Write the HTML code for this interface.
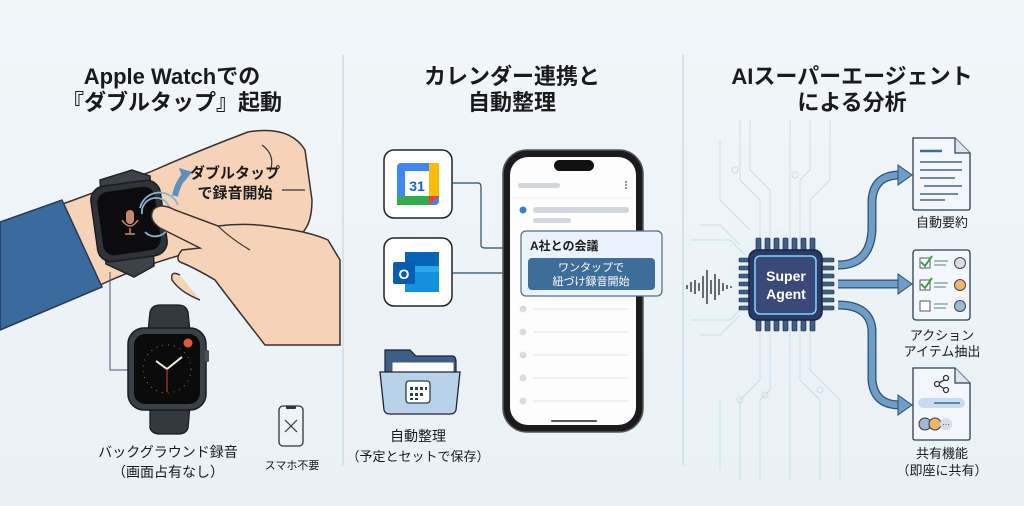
<!DOCTYPE html>
<html><head><meta charset="utf-8"><style>
html,body{margin:0;padding:0;background:#eef4f8;}
svg{display:block}
text{font-family:"Liberation Sans","Noto Sans CJK JP",sans-serif;}
</style></head><body>
<svg width="1024" height="506" viewBox="0 0 1024 506" xmlns="http://www.w3.org/2000/svg">
<defs>
<radialGradient id="glow" cx="50%" cy="50%" r="50%">
<stop offset="0%" stop-color="#7fd6ff" stop-opacity="0.9"/>
<stop offset="60%" stop-color="#9fdcff" stop-opacity="0.35"/>
<stop offset="100%" stop-color="#eef4f8" stop-opacity="0"/>
</radialGradient>
<linearGradient id="bg" x1="0" y1="0" x2="0" y2="1"><stop offset="0" stop-color="#f1f6f9"/><stop offset="1" stop-color="#e9f1f6"/></linearGradient>
</defs>
<rect width="1024" height="506" fill="url(#bg)"/>
<line x1="343" y1="55" x2="343" y2="465" stroke="#cfdbe5" stroke-width="1.5"/>
<line x1="683" y1="55" x2="683" y2="465" stroke="#cfdbe5" stroke-width="1.5"/>

<!-- titles -->
<g font-weight="bold" font-size="22" fill="#1a1a1a" text-anchor="middle">
<text x="172" y="84">Apple Watchでの</text>
<text x="172" y="110">『ダブルタップ』起動</text>
<text x="512" y="84">カレンダー連携と</text>
<text x="512" y="110">自動整理</text>
<text x="852" y="84">AIスーパーエージェント</text>
<text x="852" y="110">による分析</text>
</g>

<!-- LEFT: arm -->
<path d="M60,205 L150,172 Q200,150 248,132 Q290,125 305,150 L312,200 Q312,228 298,236 L200,250 Q150,262 100,285 Z" fill="#f5d3b8" stroke="#3a3030" stroke-width="1.5"/>
<path d="M0,222 L62,200 L102,287 L0,330 Z" fill="#3a6a9e" stroke="#2a3a50" stroke-width="1.5"/>
<path d="M262,145 Q276,155 270,172" fill="none" stroke="#3a3030" stroke-width="1.2"/>
<path d="M282,190 L305,190" fill="none" stroke="#3a3030" stroke-width="1.2"/>
<!-- watch on wrist -->
<path d="M100,180 L132,170 L150,176 L154,266 L134,277 L106,264 Z" fill="#3d4249" stroke="#222" stroke-width="1.5"/>
<rect x="94" y="183" width="70" height="76" rx="14" fill="#2f3338" stroke="#1b1b1b" stroke-width="1.5" transform="rotate(-8 129 221)"/>
<rect x="100" y="189" width="58" height="64" rx="11" fill="#0c0c0e" transform="rotate(-8 129 221)"/>
<rect x="126" y="210" width="8" height="14" rx="4" fill="#c7876a"/>
<path d="M122,220 Q130,232 138,220 M130,228 L130,234 M125,234 L135,234" stroke="#c7876a" stroke-width="1.5" fill="none"/>
<g fill="none" stroke="#8fb2d0" stroke-width="1.8">
<path d="M142,214 A14,14 0 0 1 170,210"/><path d="M140,208 A20,20 0 0 1 178,205"/><path d="M145,232 A14,14 0 0 0 168,228"/>
</g>
<path d="M175,196 Q178,182 186,174" fill="none" stroke="#5d8fbf" stroke-width="6"/>
<path d="M179,168 L192,172 L184,182 Z" fill="#5d8fbf"/>
<!-- pointing hand -->
<path d="M153,210 Q160,202 175,210 L218,226 Q250,222 280,228 Q310,232 328,240 L340,260 L340,345 L265,345 Q230,300 215,280 Q195,268 180,262 Q175,258 182,250 L200,248 L160,228 Q148,220 153,210 Z" fill="#f5d3b8" stroke="#3a3030" stroke-width="1.5"/>
<path d="M180,275 Q170,270 172,280 Q180,292 200,300" fill="#f5d3b8" stroke="#3a3030" stroke-width="1.5"/>
<path d="M218,226 Q230,238 250,250" fill="none" stroke="#3a3030" stroke-width="1.2"/>
<!-- connector -->
<path d="M110,272 L110,370 L128,370" fill="none" stroke="#556" stroke-width="1"/>
<!-- bottom watch -->
<path d="M150,312 Q152,305 160,305 L178,305 Q186,305 188,312 L190,332 L148,332 Z" fill="#343940" stroke="#1c1c1c" stroke-width="1.3"/>
<path d="M150,405 L190,405 L188,428 Q186,434 178,434 L160,434 Q152,434 150,428 Z" fill="#343940" stroke="#1c1c1c" stroke-width="1.3"/>
<rect x="128" y="328" width="78" height="82" rx="16" fill="#3b4046" stroke="#1b1b1b" stroke-width="1.5"/>
<rect x="134" y="334" width="66" height="70" rx="11" fill="#0b0b0c"/>
<rect x="205" y="350" width="4" height="12" rx="1.5" fill="#4a5058"/>
<circle cx="188" cy="343" r="4.5" fill="#e05a3a"/>
<circle cx="167" cy="369" r="24" fill="none" stroke="#777" stroke-width="1" stroke-dasharray="1 5"/>
<path d="M167,369 L156,361 M167,369 L182,357" stroke="#f4efe8" stroke-width="2"/>
<path d="M167,369 L167,392" stroke="#d04030" stroke-width="1"/>
<!-- phone small -->
<rect x="279" y="406" width="24" height="40" rx="4" fill="#eef3f7" stroke="#333" stroke-width="1.3"/>
<rect x="286" y="406" width="10" height="3" rx="1" fill="#333"/>
<path d="M285,420 L297,432 M297,420 L285,432" stroke="#333" stroke-width="1.2"/>
<g font-size="14" fill="#1a1a1a" text-anchor="middle" font-weight="bold">
<text x="235" y="178" font-size="15">ダブルタップ</text>
<text x="235" y="198" font-size="15">で録音開始</text>
<text x="168" y="457" font-weight="normal">バックグラウンド録音</text>
<text x="168" y="477" font-weight="normal">（画面占有なし）</text>
<text x="292" y="469" font-size="11" font-weight="normal">スマホ不要</text>
</g>

<!-- MIDDLE -->
<rect x="384" y="150" width="68" height="68" rx="10" fill="#fff" stroke="#222" stroke-width="1.5"/>
<rect x="397" y="163" width="42" height="42" rx="4" fill="#4285f4"/>
<rect x="397" y="196" width="32" height="9" fill="#34a853"/>
<rect x="429" y="163" width="10" height="33" fill="#fbbc04"/>
<path d="M429,196 L439,196 L429,205 Z" fill="#ea4335"/>
<rect x="405" y="171" width="24" height="25" fill="#fff"/>
<text x="417" y="191" font-size="14" fill="#1a5fc5" text-anchor="middle" font-weight="bold">31</text>
<rect x="384" y="238" width="68" height="68" rx="10" fill="#fff" stroke="#222" stroke-width="1.5"/>
<rect x="405" y="252" width="34" height="40" rx="2" fill="#28a8ea"/>
<rect x="405" y="252" width="34" height="14" fill="#0364b8"/>
<path d="M405,272 L439,272 L439,292 L405,292 Z" fill="#1490df"/>
<rect x="393" y="262" width="22" height="22" rx="2" fill="#0a5cb0"/>
<text x="404" y="279" font-size="14" fill="#fff" text-anchor="middle" font-weight="bold">O</text>
<path d="M452,183 L478,183 Q481,183 481,187 L481,245 Q481,248 485,248 L520,248 M452,273 L520,273" fill="none" stroke="#2c4a66" stroke-width="1.2"/>
<!-- folder -->
<path d="M385,350 L410,350 L416,356 L452,356 Q456,356 456,362 L456,372 L385,372 Z" fill="#3b5f86" stroke="#223" stroke-width="1.2"/>
<rect x="392" y="362" width="62" height="14" fill="#fff" stroke="#556"/>
<path d="M380,372 L460,372 L456,410 Q455,414 450,414 L390,414 Q385,414 384,410 Z" fill="#b9d2ea" stroke="#223" stroke-width="1.3"/>
<rect x="406" y="381" width="24" height="22" rx="3" fill="#fff" stroke="#2b3f55" stroke-width="1.3"/>
<g fill="#2b3f55"><rect x="410" y="387" width="3" height="3"/><rect x="415" y="387" width="3" height="3"/><rect x="420" y="387" width="3" height="3"/><rect x="425" y="387" width="2" height="3"/><rect x="410" y="393" width="3" height="3"/><rect x="415" y="393" width="3" height="3"/><rect x="420" y="393" width="3" height="3"/><rect x="410" y="398" width="3" height="2"/><rect x="415" y="398" width="3" height="2"/></g>
<g font-size="14" fill="#1a1a1a" text-anchor="middle">
<text x="418" y="441">自動整理</text>
<text x="418" y="461" font-size="13">（予定とセットで保存）</text>
</g>
<!-- phone -->
<rect x="503" y="150" width="140" height="282" rx="24" fill="#1b1b1d" stroke="#555" stroke-width="1.5"/>
<rect x="510" y="157" width="126" height="268" rx="18" fill="#fdfdfd"/>
<rect x="554" y="160" width="40" height="11" rx="5.5" fill="#111"/>
<rect x="518" y="183" width="42" height="5" rx="2.5" fill="#d1d6dc"/>
<circle cx="626" cy="185" r="1" fill="#777"/><circle cx="626" cy="182" r="1" fill="#777"/><circle cx="626" cy="188" r="1" fill="#777"/>
<line x1="512" y1="198" x2="634" y2="198" stroke="#eee"/>
<circle cx="523" cy="210" r="3.5" fill="#3a7bd5"/>
<rect x="533" y="207" width="96" height="6" rx="3" fill="#d1d6dc"/>
<rect x="533" y="218" width="38" height="5" rx="2.5" fill="#d1d6dc"/>
<g fill="#d9dde2"><circle cx="523" cy="309" r="3.5"/><circle cx="523" cy="332" r="3.5"/><circle cx="523" cy="355" r="3.5"/><circle cx="523" cy="378" r="3.5"/><circle cx="523" cy="401" r="3.5"/></g>
<g stroke="#dde1e6"><line x1="533" y1="309" x2="628" y2="309"/><line x1="533" y1="332" x2="628" y2="332"/><line x1="533" y1="355" x2="628" y2="355"/><line x1="533" y1="378" x2="628" y2="378"/><line x1="533" y1="401" x2="628" y2="401"/></g>
<rect x="551" y="420" width="46" height="2" rx="1" fill="#555"/>
<rect x="521" y="231" width="141" height="65" rx="5" fill="#eaf3fb" stroke="#556a80" stroke-width="1.2"/>
<text x="530" y="250" font-size="12" fill="#1a1a1a" font-weight="bold">A社との会議</text>
<rect x="528" y="258" width="127" height="32" rx="4" fill="#3f6d9a"/>
<g font-size="11" fill="#fff" text-anchor="middle"><text x="591" y="271">ワンタップで</text><text x="591" y="285">紐づけ録音開始</text></g>

<!-- RIGHT: circuit -->
<g fill="none" stroke="#cfdbe4" stroke-width="1">
<path d="M740,120 L740,180 L760,200 L760,245 M750,120 L750,170 L770,190 L770,245 M790,120 L790,245 M810,120 L810,170 L800,180 L800,245 M830,120 L830,180 L810,200 L810,245 M720,140 L720,200 L750,230"/>
<path d="M760,325 L760,380 L740,400 L740,480 M770,325 L770,390 L760,400 L760,480 M790,325 L790,480 M800,325 L800,380 L820,400 L820,480 M810,325 L810,370 L840,400 L840,480 M720,400 L720,470"/>
<path d="M690,240 L730,240 L745,255 M690,320 L730,320 L745,305 M700,225 L720,225 L740,245 M700,335 L720,335 L740,315"/>
</g>
<g fill="none" stroke="#cfdbe4"><circle cx="735" cy="170" r="3"/><circle cx="795" cy="175" r="3"/><circle cx="765" cy="395" r="3"/><circle cx="820" cy="390" r="3"/><circle cx="740" cy="400" r="3"/></g>
<!-- waveform -->
<g stroke="#222" stroke-width="1.3">
<line x1="687" y1="285" x2="687" y2="289"/><line x1="691" y1="282" x2="691" y2="292"/><line x1="695" y1="280" x2="695" y2="294"/><line x1="699" y1="283" x2="699" y2="291"/><line x1="703" y1="276" x2="703" y2="298"/><line x1="707" y1="270" x2="707" y2="304"/><line x1="711" y1="280" x2="711" y2="294"/><line x1="715" y1="274" x2="715" y2="300"/><line x1="719" y1="279" x2="719" y2="295"/><line x1="723" y1="283" x2="723" y2="291"/><line x1="727" y1="285" x2="727" y2="289"/><line x1="731" y1="286" x2="731" y2="288"/>
</g>
<!-- chip -->
<circle cx="786" cy="284" r="60" fill="url(#glow)"/>
<g fill="#3f5f86" stroke="#223" stroke-width="0.6">
<rect x="756" y="238" width="5" height="13" rx="1"/><rect x="765" y="238" width="5" height="13" rx="1"/><rect x="774" y="238" width="5" height="13" rx="1"/><rect x="783" y="238" width="5" height="13" rx="1"/><rect x="792" y="238" width="5" height="13" rx="1"/><rect x="801" y="238" width="5" height="13" rx="1"/><rect x="810" y="238" width="5" height="13" rx="1"/>
<rect x="756" y="318" width="5" height="13" rx="1"/><rect x="765" y="318" width="5" height="13" rx="1"/><rect x="774" y="318" width="5" height="13" rx="1"/><rect x="783" y="318" width="5" height="13" rx="1"/><rect x="792" y="318" width="5" height="13" rx="1"/><rect x="801" y="318" width="5" height="13" rx="1"/><rect x="810" y="318" width="5" height="13" rx="1"/>
<rect x="739" y="258" width="14" height="4" rx="1"/><rect x="739" y="266" width="14" height="4" rx="1"/><rect x="739" y="274" width="14" height="4" rx="1"/><rect x="739" y="282" width="14" height="4" rx="1"/><rect x="739" y="290" width="14" height="4" rx="1"/><rect x="739" y="298" width="14" height="4" rx="1"/><rect x="739" y="306" width="14" height="4" rx="1"/>
<rect x="820" y="258" width="14" height="4" rx="1"/><rect x="820" y="266" width="14" height="4" rx="1"/><rect x="820" y="274" width="14" height="4" rx="1"/><rect x="820" y="282" width="14" height="4" rx="1"/><rect x="820" y="290" width="14" height="4" rx="1"/><rect x="820" y="298" width="14" height="4" rx="1"/><rect x="820" y="306" width="14" height="4" rx="1"/>
</g>
<rect x="749" y="250" width="73" height="70" rx="8" fill="#2c3b66" stroke="#1a2440" stroke-width="1.5"/>
<rect x="755" y="256" width="61" height="58" rx="5" fill="#3a4a78" stroke="#7fd6ff" stroke-width="1.5"/>
<g font-size="14" font-weight="bold" fill="#fff" text-anchor="middle"><text x="786" y="281">Super</text><text x="786" y="299">Agent</text></g>
<!-- arrows -->
<g fill="none" stroke="#2f4f6e" stroke-width="9" stroke-linecap="butt">
<path d="M838,265 Q870,265 872,230 L872,200 Q874,175 900,175"/>
<path d="M838,284 L900,284"/>
<path d="M838,305 Q870,305 872,330 L872,380 Q874,405 900,405"/>
</g>
<g fill="none" stroke="#6e9dc8" stroke-width="6.5">
<path d="M838,265 Q870,265 872,230 L872,200 Q874,175 900,175"/>
<path d="M838,284 L900,284"/>
<path d="M838,305 Q870,305 872,330 L872,380 Q874,405 900,405"/>
</g>
<g fill="#6e9dc8" stroke="#2f4f6e" stroke-width="1">
<path d="M898,165 L912,175 L898,185 Z"/><path d="M898,274 L912,284 L898,294 Z"/><path d="M898,395 L912,405 L898,415 Z"/>
</g>
<!-- docs -->
<path d="M913,138 L955,138 L970,153 L970,208 Q970,210 968,210 L915,210 Q913,210 913,208 Z" fill="#f3f7fb" stroke="#2c3e52" stroke-width="1.3"/>
<path d="M955,138 L955,153 L970,153" fill="#dde6ef" stroke="#2c3e52" stroke-width="1.2"/>
<g stroke="#6f8aa5" stroke-width="2"><line x1="920" y1="151" x2="942" y2="151" stroke="#3f6d9a" stroke-width="2.5"/><line x1="920" y1="162" x2="962" y2="162"/><line x1="920" y1="170" x2="962" y2="170"/><line x1="920" y1="178" x2="955" y2="178"/><line x1="924" y1="186" x2="962" y2="186"/><line x1="920" y1="194" x2="958" y2="194"/><line x1="920" y1="200" x2="945" y2="200"/></g>
<rect x="913" y="250" width="57" height="70" rx="3" fill="#f3f7fb" stroke="#2c3e52" stroke-width="1.3"/>
<g stroke="#556" fill="#fff" stroke-width="1"><rect x="920" y="258" width="10" height="10"/><rect x="920" y="280" width="10" height="10"/><rect x="920" y="301" width="10" height="10"/></g>
<path d="M921,262 L925,266 L932,256 M921,284 L925,288 L932,278" stroke="#3aa34a" stroke-width="2" fill="none"/>
<g stroke="#8aa" stroke-width="1.5"><line x1="934" y1="261" x2="948" y2="261"/><line x1="934" y1="265" x2="946" y2="265"/><line x1="934" y1="283" x2="948" y2="283"/><line x1="934" y1="287" x2="946" y2="287"/><line x1="934" y1="304" x2="948" y2="304"/><line x1="934" y1="308" x2="946" y2="308"/></g>
<circle cx="960" cy="263" r="5.5" fill="#d8dde3" stroke="#445"/><circle cx="960" cy="285" r="5.5" fill="#f0b46a" stroke="#445"/><circle cx="960" cy="306" r="5.5" fill="#9fb8d4" stroke="#445"/>
<path d="M913,368 L955,368 L970,383 L970,438 Q970,440 968,440 L915,440 Q913,440 913,438 Z" fill="#f3f7fb" stroke="#2c3e52" stroke-width="1.3"/>
<path d="M955,368 L955,383 L970,383" fill="#dde6ef" stroke="#2c3e52" stroke-width="1.2"/>
<g stroke="#334" stroke-width="1.3" fill="#fff"><line x1="937" y1="384" x2="946" y2="379"/><line x1="937" y1="384" x2="946" y2="390"/><circle cx="937" cy="384" r="2.5"/><circle cx="946" cy="378" r="2.5"/><circle cx="946" cy="390" r="2.5"/></g>
<rect x="918" y="398" width="47" height="10" rx="5" fill="#c9dbee"/>
<line x1="934" y1="403" x2="960" y2="403" stroke="#3f6d9a" stroke-width="1.5"/>
<circle cx="925" cy="424" r="6" fill="#9fb8d4" stroke="#334"/><circle cx="935" cy="424" r="6" fill="#f0b46a" stroke="#334"/><circle cx="946" cy="424" r="6" fill="#d4dde8"/>
<text x="946" y="427" font-size="8" text-anchor="middle" fill="#334">···</text>
<g font-size="13" fill="#1a1a1a" text-anchor="middle">
<text x="942" y="227">自動要約</text>
<text x="942" y="340">アクション</text>
<text x="942" y="356">アイテム抽出</text>
<text x="942" y="458">共有機能</text>
<text x="942" y="475">（即座に共有）</text>
</g>
</svg>
</body></html>
